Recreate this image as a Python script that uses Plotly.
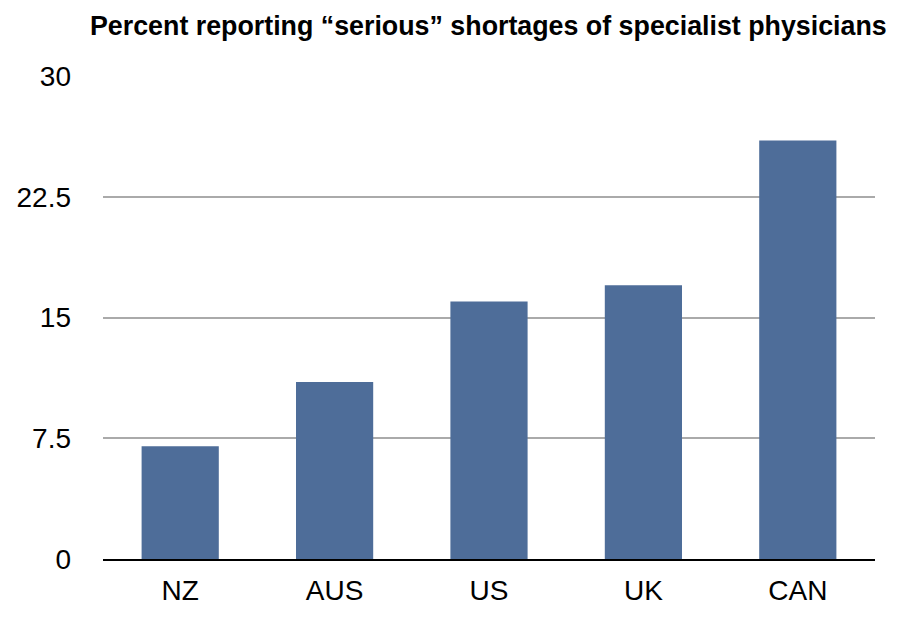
import plotly.graph_objects as go

# Data
countries = ["NZ", "AUS", "US", "UK", "CAN"]
percent_serious = [7, 11, 16, 17, 26]
y_ticks = [0, 7.5, 15, 22.5, 30]
y_tick_labels = ["0", "7.5", "15", "22.5", "30"]

bar_color = "#4e6d99"
font_family = "Liberation Sans, Arial, Helvetica, sans-serif"

fig = go.Figure()

fig.add_trace(go.Bar(
    x=countries,
    y=percent_serious,
    marker=dict(color=bar_color, line=dict(width=0)),
    width=0.5,
    showlegend=False,
))

# the page body adds an 8px offset, so the figure is made 8px smaller
fig.update_layout(
    width=897,
    height=612,
    margin=dict(l=95, r=30, t=68, b=61),
    paper_bgcolor="white",
    plot_bgcolor="white",
    font=dict(family=font_family, color="black"),
    title=dict(
        text="<b>Percent reporting \u201cserious\u201d shortages of specialist physicians</b>",
        x=0, xref="paper", xanchor="left",
        y=0.9706, yref="container", yanchor="middle",
        pad=dict(l=-13),
        font=dict(size=26.8, color="black", family=font_family),
    ),
    xaxis=dict(
        showgrid=False,
        showline=True,
        linecolor="black",
        linewidth=1.5,
        ticks="",
        tickfont=dict(size=28),
        ticklabelstandoff=6,
        automargin=False,
    ),
    yaxis=dict(
        range=[0, 30],
        tickvals=y_ticks,
        ticktext=y_tick_labels,
        showgrid=True,
        gridcolor="#aaaaaa",
        gridwidth=1.5,
        zeroline=False,
        showline=False,
        ticks="",
        tickfont=dict(size=28),
        ticklabelstandoff=31,
        automargin=False,
    ),
    bargap=0.5,
)

fig.write_html("out.html")
